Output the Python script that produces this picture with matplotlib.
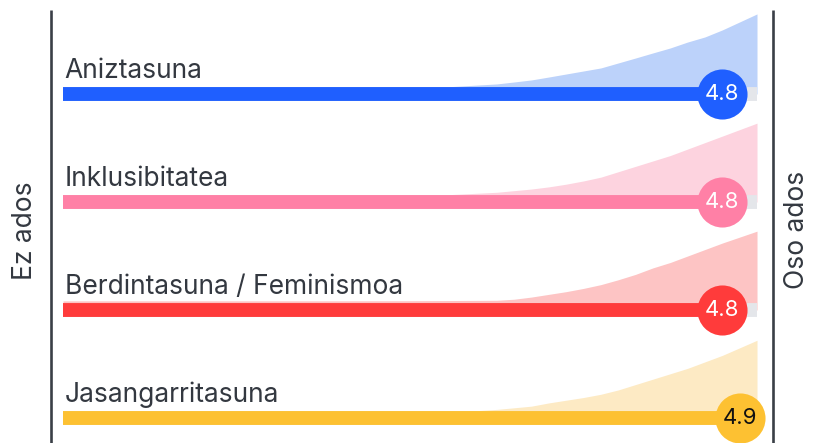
import matplotlib
import matplotlib.pyplot as plt
import numpy as np

matplotlib.use("Agg")
plt.rcParams["font.family"] = ["Inter", "DejaVu Sans"]

# data
labels = ["Aniztasuna", "Inklusibitatea", "Berdintasuna / Feminismoa", "Jasangarritasuna"]
means = [4.8, 4.8, 4.8, 4.9]
bar_colors = ["#1f5fff", "#ff80a6", "#ff3b3b", "#fdc132"]
fill_colors = ["#bcd2fa", "#fdd3df", "#fdc4c4", "#fdeac4"]
value_text_colors = ["white", "white", "white", "#111111"]

# answer distribution shape along the 1..5 scale (relative height, 1 = row gap)
score_grid = [1.0, 2.0, 2.5, 3.0, 3.5, 3.6, 3.7, 3.8, 3.9, 4.0,
              4.1, 4.2, 4.3, 4.4, 4.5, 4.6, 4.7, 4.8, 4.9, 5.0]
dist_aniztasuna = [0.0, 0.005, 0.02, 0.046, 0.093, 0.111, 0.130, 0.157, 0.185, 0.213,
                   0.241, 0.287, 0.333, 0.380, 0.426, 0.481, 0.528, 0.593, 0.667, 0.741]
dist_inklusibitatea = [0.0, 0.005, 0.02, 0.05, 0.09, 0.105, 0.12, 0.14, 0.165, 0.195,
                       0.23, 0.28, 0.33, 0.38, 0.43, 0.49, 0.55, 0.61, 0.67, 0.73]
dist_berdintasuna = [0.085, 0.085, 0.085, 0.086, 0.09, 0.10, 0.12, 0.145, 0.17, 0.20,
                     0.235, 0.28, 0.33, 0.39, 0.44, 0.50, 0.56, 0.62, 0.675, 0.73]
dist_jasangarritasuna = [0.0, 0.005, 0.015, 0.03, 0.08, 0.095, 0.11, 0.14, 0.165, 0.19,
                         0.22, 0.26, 0.31, 0.36, 0.41, 0.46, 0.52, 0.58, 0.65, 0.72]
dists = [dist_aniztasuna, dist_inklusibitatea, dist_berdintasuna, dist_jasangarritasuna]

fig = plt.figure(figsize=(8.16, 4.43), dpi=100)
ax = fig.add_axes([0, 0, 1, 1])
ax.set_xlim(0.637, 5.340)
ax.set_ylim(3.231, -0.870)
ax.axis("off")

for i, (lab, m) in enumerate(zip(labels, means)):
    y = i
    h = np.array(dists[i])
    ax.fill_between(score_grid, y, y - h, color=fill_colors[i], lw=0, zorder=1)
    ax.hlines(y, 1, 5, color="#e4e6ea", lw=10, capstyle="butt", zorder=2)
    ax.hlines(y, 1, m, color=bar_colors[i], lw=10, capstyle="butt", zorder=3)
    ax.scatter([m], [y], s=1300, color=bar_colors[i], zorder=4, lw=0)
    ax.text(m, y, f"{m:.1f}", color=value_text_colors[i], fontsize=16,
            ha="center", va="center", zorder=5)
    ax.text(1.01, y - 0.15, lab, color="#333840", fontsize=19,
            ha="left", va="baseline", zorder=6)

# scale end lines
ax.vlines([0.931, 5.092], -0.78, 3.3, color="#3a3f47", lw=1.9, zorder=0)
fig.text(0.031, 0.48, "Ez ados", rotation=90, fontsize=19, color="#333840",
         ha="center", va="center")
fig.text(0.977, 0.48, "Oso ados", rotation=90, fontsize=19, color="#333840",
         ha="center", va="center")

fig.savefig("out.png", dpi=100)
